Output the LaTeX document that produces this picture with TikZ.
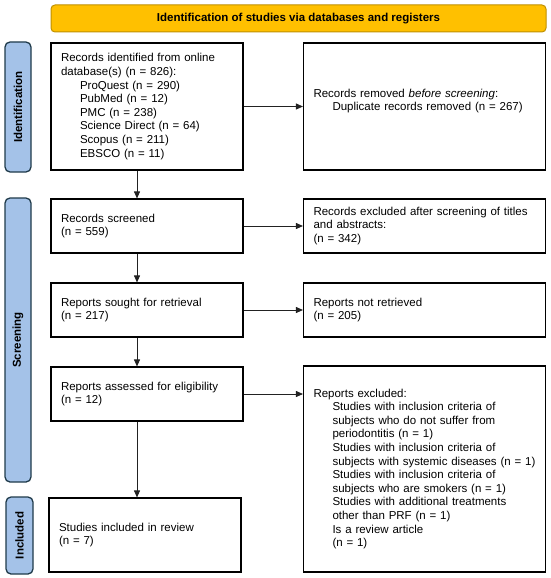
\documentclass[tikz,border=0pt]{standalone}
\usepackage{fontspec}
\setmainfont{Liberation Sans}
\usetikzlibrary{arrows.meta}
\definecolor{bannerfill}{HTML}{FFC000}
\definecolor{bannerdraw}{HTML}{BF9000}
\definecolor{sidefill}{HTML}{A4C2E8}
\definecolor{sidedraw}{HTML}{1F3A4A}
\definecolor{arrowcol}{HTML}{222222}
\begin{document}
\begin{tikzpicture}[x=1pt,y=-1pt,
  txt/.style={font=\fontsize{11.5}{13.6}\selectfont},
  box/.style={draw=black, line width=1.1pt, fill=white, txt, align=left, inner xsep=10pt, inner ysep=0pt},
  banner/.style={draw=bannerdraw, fill=bannerfill, line width=1pt, rounded corners=4pt, font=\bfseries\fontsize{11.5}{13.6}\selectfont, minimum width=495pt, minimum height=27pt, inner sep=0pt},
  side/.style={draw=sidedraw, fill=sidefill, line width=1.3pt, rounded corners=5pt, rotate=90, font=\bfseries\fontsize{11.5}{13.6}\selectfont, minimum height=26pt, inner sep=0pt},
  arr/.style={draw=arrowcol, line width=0.8pt, -{Triangle[width=6pt,length=7pt]}}]
\useasboundingbox (0,0) rectangle (550,578);

\node[banner] (banner) at (298.5,18.5) {Identification of studies via databases and registers};

\node[side, minimum width=130pt] (sid) at (18,107) {Identification};
\node[side, minimum width=284pt] (sscr) at (18,340) {Screening};
\node[side, minimum width=77pt, minimum height=27pt] (sinc) at (19.5,535.5) {Included};

\node[box, text width=172pt, minimum height=127pt] (rec) at (147,106.5) {Records identified from online\\database(s) (n = 826):\\\hspace*{19pt}ProQuest (n = 290)\\\hspace*{19pt}PubMed (n = 12)\\\hspace*{19pt}PMC (n = 238)\\\hspace*{19pt}Science Direct (n = 64)\\\hspace*{19pt}Scopus (n = 211)\\\hspace*{19pt}EBSCO (n = 11)};
\node[box, text width=222pt, minimum height=127pt] (rem) at (424.5,106.5) {Records removed \textit{before screening}:\\\hspace*{19pt}Duplicate records removed (n = 267)\\\mbox{}};

\node[box, text width=172pt, minimum height=54pt] (scr) at (147,226) {Records screened\\(n = 559)};
\node[box, text width=222pt, minimum height=54pt] (exc) at (424.5,226) {Records excluded after screening of titles\\and abstracts:\\(n = 342)};

\node[box, text width=172pt, minimum height=54pt] (sou) at (147,310) {Reports sought for retrieval\\(n = 217)};
\node[box, text width=222pt, minimum height=54pt] (notr) at (424.5,310) {Reports not retrieved\\(n = 205)};

\node[box, text width=172pt, minimum height=54pt] (ass) at (147,394) {Reports assessed for eligibility\\(n = 12)};
\node[box, text width=222pt, minimum height=206pt] (rex) at (424.5,469) {Reports excluded:\\\hspace*{19pt}Studies with inclusion criteria of\\\hspace*{19pt}subjects who do not suffer from\\\hspace*{19pt}periodontitis (n = 1)\\\hspace*{19pt}Studies with inclusion criteria of\\\hspace*{19pt}subjects with systemic diseases (n = 1)\\\hspace*{19pt}Studies with inclusion criteria of\\\hspace*{19pt}subjects who are smokers (n = 1)\\\hspace*{19pt}Studies with additional treatments\\\hspace*{19pt}other than PRF (n = 1)\\\hspace*{19pt}Is a review article\\\hspace*{19pt}(n = 1)};

\node[box, text width=172pt, minimum height=74pt] (inc) at (145,535) {Studies included in review\\(n = 7)};

\draw[arr] (rec.east) -- (rem.west);
\draw[arr] (scr.east) -- (exc.west);
\draw[arr] (sou.east) -- (notr.west);
\draw[arr] (ass.east) -- (rex.west |- ass.east);

\draw[arr] ([xshift=-10pt]rec.south) -- ([xshift=-10pt]scr.north);
\draw[arr] ([xshift=-10pt]scr.south) -- ([xshift=-10pt]sou.north);
\draw[arr] ([xshift=-10pt]sou.south) -- ([xshift=-10pt]ass.north);
\draw[arr] ([xshift=-10pt]ass.south) -- ([xshift=-10pt]ass.south |- inc.north);
\end{tikzpicture}
\end{document}
